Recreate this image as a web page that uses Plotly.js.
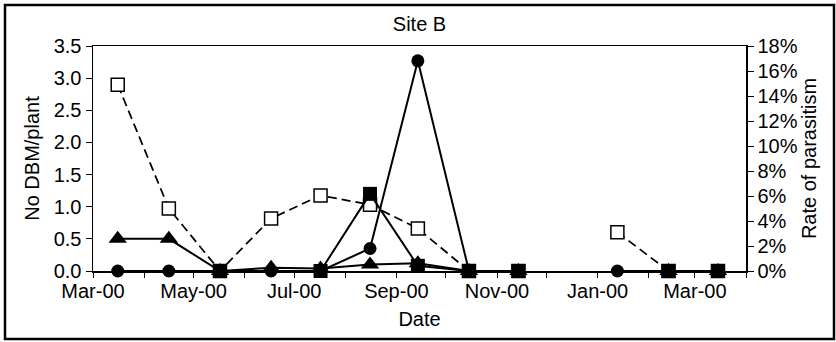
<!DOCTYPE html>
<html>
<head>
<meta charset="utf-8">
<script src="https://cdn.plot.ly/plotly-3.0.1.min.js"></script>
<style>
html,body{margin:0;padding:0;background:#fff;}
#chart{width:836px;height:342px;}
</style>
</head>
<body>
<div id="chart"></div>
<script>
// Sampling dates (approx. mid-month)
const dates = ['2000-03-16','2000-04-16','2000-05-17','2000-06-17','2000-07-17','2000-08-16','2000-09-14','2000-10-15','2000-11-14','2000-12-15','2001-01-13','2001-02-13','2001-03-15'];
// Rate of parasitism (%), right axis — open squares, dashed
const parasitism = [14.9, 5.0, 0, 4.2, 6.05, 5.3, 3.4, 0, 0, null, 3.1, 0, 0];
// No DBM/plant — filled circles
const circles = [0, 0, 0, 0, 0, 0.35, 3.27, 0, 0, null, 0, 0, 0];
// No DBM/plant — filled triangles
const triangles = [0.5, 0.5, 0, 0.05, 0.04, 0.1, 0.12, 0, 0, null, null, 0, 0];
// No DBM/plant — filled squares
const squares = [null, null, 0, null, 0, 1.2, 0.08, 0, 0, null, null, 0, 0];

const tickVals = ['2000-03-01','2000-05-01','2000-07-01','2000-09-01','2000-11-01','2001-01-01','2001-03-01'];
const tickText = ['Mar-00','May-00','Jul-00','Sep-00','Nov-00','Jan-00','Mar-00'];

const FONT = 'Liberation Sans, Arial, sans-serif';
const W = 836, H = 342;
const M = {l:93, r:90, t:46, b:71};
const pw = W - M.l - M.r, ph = H - M.t - M.b;

const lineSolid = {color:'#000', width:2};
const traces = [
  // parasitism on the base (right-side) axis so it is drawn beneath the DBM series
  {x:dates, y:parasitism, yaxis:'y', type:'scatter', mode:'lines+markers', cliponaxis:false,
   line:{color:'#000', width:1.75, dash:'9px,5px'},
   marker:{symbol:'square', size:13, color:'#fff', line:{color:'#000', width:1.5}}},
  {x:dates, y:circles, yaxis:'y2', type:'scatter', mode:'lines+markers', cliponaxis:false,
   line:lineSolid, marker:{symbol:'circle', size:13, color:'#000'}},
  {x:dates, y:triangles, yaxis:'y2', type:'scatter', mode:'lines+markers', cliponaxis:false,
   line:lineSolid, marker:{symbol:'triangle-up', size:16, color:'#000'}},
  {x:dates, y:squares, yaxis:'y2', type:'scatter', mode:'lines+markers', cliponaxis:false,
   line:lineSolid, marker:{symbol:'square', size:14, color:'#000'}}
];

const px = v => (v - M.l) / pw;
const py = v => (H - M.b - v) / ph;

const layout = {
  width:W, height:H,
  margin:M,
  paper_bgcolor:'#fff', plot_bgcolor:'#fff',
  showlegend:false,
  font:{family:FONT, size:20, color:'#000'},
  title:{text:'Site B', font:{family:FONT, size:20, color:'#000'}, x:0.5, xref:'paper', xanchor:'center', y:1-24/H, yref:'container', yanchor:'middle'},
  xaxis:{type:'date', range:['2000-03-01','2001-04-01'], tickmode:'array', tickvals:tickVals, ticktext:tickText,
    ticks:'outside', ticklen:1, tickwidth:1, tickcolor:'#000',
    minor:{ticks:'outside', ticklen:5, tickwidth:1, tickcolor:'#000', dtick:'M1', tick0:'2000-03-01', showgrid:false},
    showline:true, linecolor:'#000', linewidth:1.5, mirror:true, showgrid:false, zeroline:false,
    title:{text:'Date', font:{family:FONT, size:20}, standoff:11}},
  yaxis:{range:[0,18], dtick:2, tick0:0, ticksuffix:'%', side:'right', ticks:'outside', ticklen:6, tickcolor:'#000',
    showline:true, linecolor:'#000', linewidth:1.5, showgrid:false, zeroline:false,
    title:{text:'Rate of parasitism', font:{family:FONT, size:20}, standoff:2}},
  yaxis2:{range:[0,3.5], dtick:0.5, tick0:0, tickformat:'.1f', overlaying:'y', side:'left', ticks:'outside', ticklen:6, tickcolor:'#000',
    showline:true, linecolor:'#000', linewidth:1.5, showgrid:false, zeroline:false,
    title:{text:'No DBM/plant', font:{family:FONT, size:20}, standoff:8}},
  shapes:[{type:'rect', xref:'paper', yref:'paper', x0:px(5), x1:px(834), y0:py(339), y1:py(5),
    line:{color:'#000', width:2.5}, fillcolor:'rgba(0,0,0,0)'}]
};

Plotly.newPlot('chart', traces, layout, {staticPlot:true, displayModeBar:false});
</script>
</body>
</html>
